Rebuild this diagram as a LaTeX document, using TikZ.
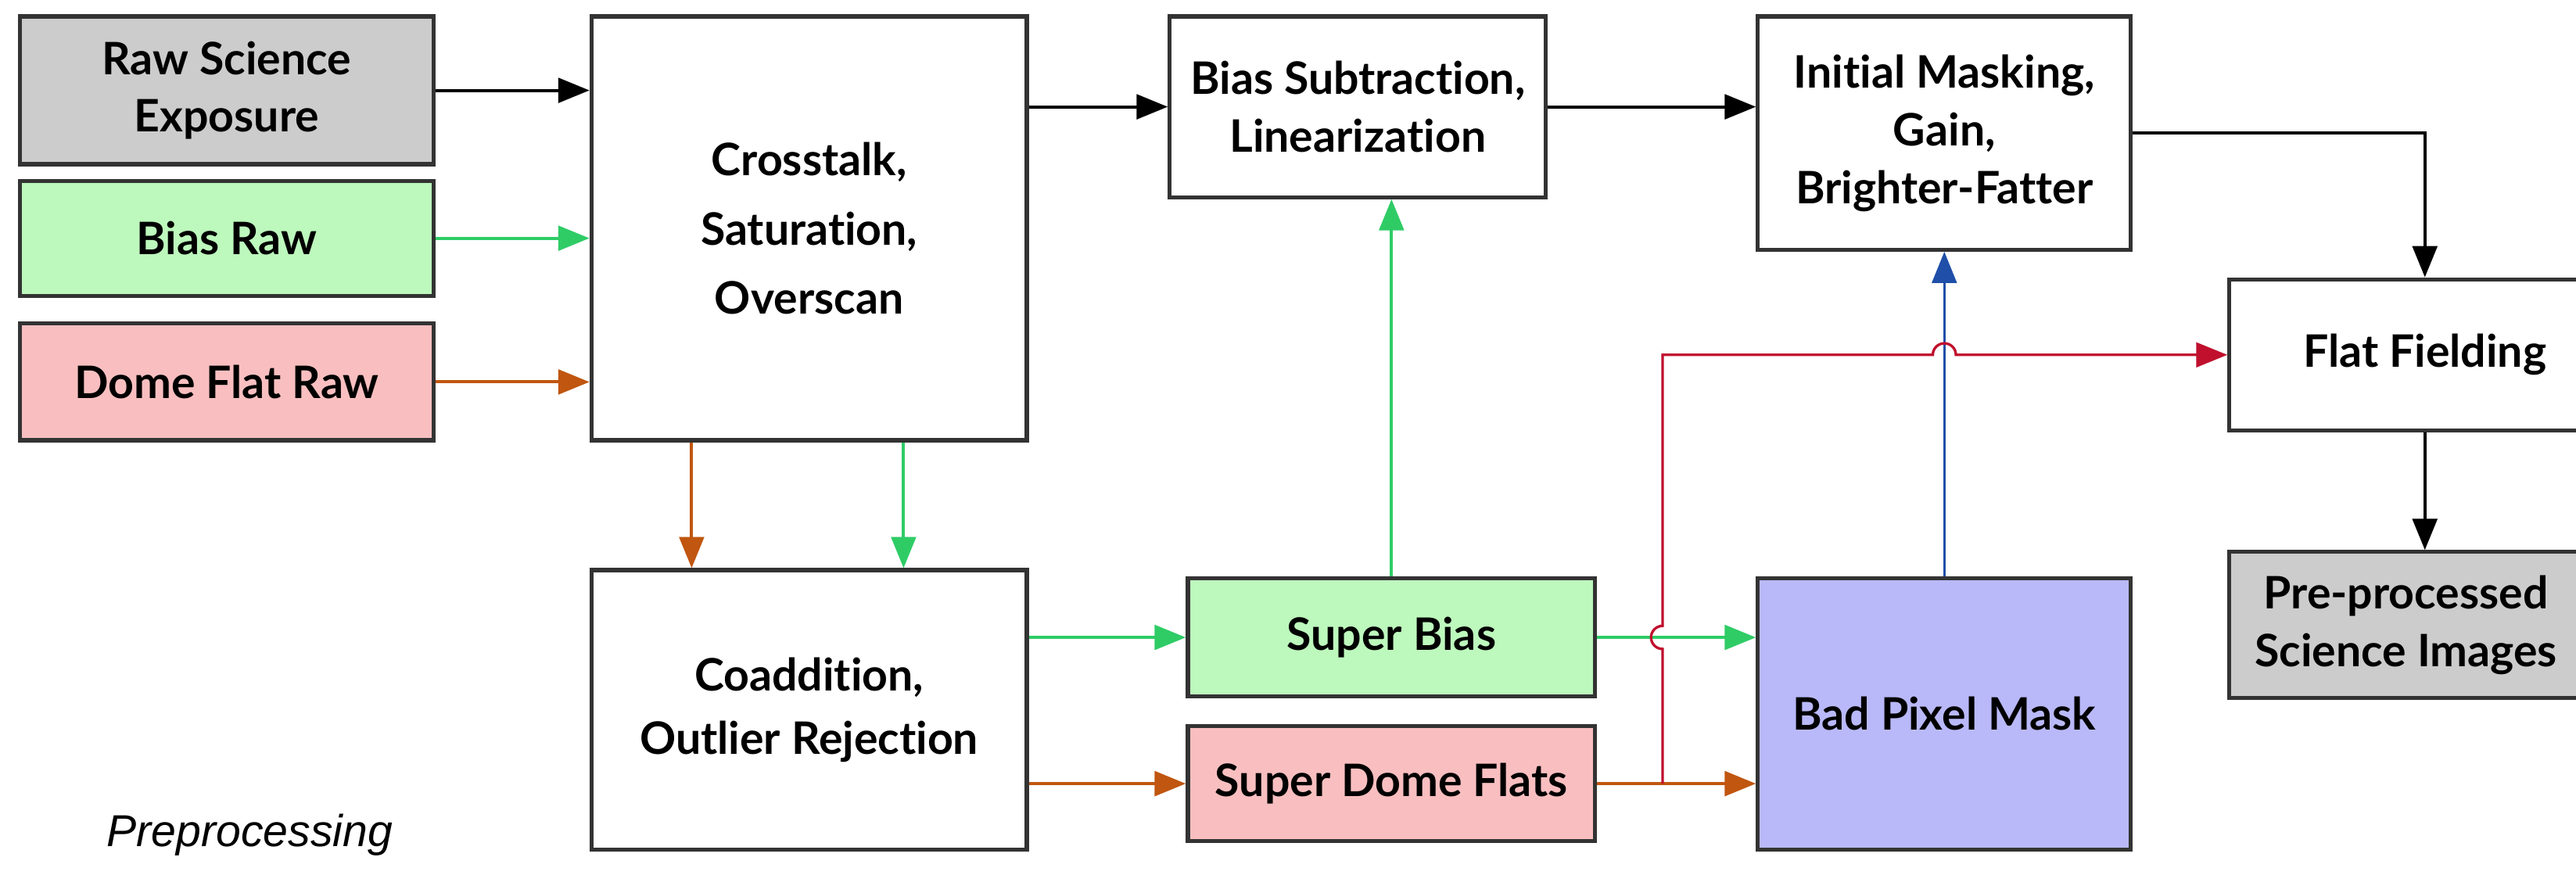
\documentclass[tikz,border=0pt]{standalone}
\usepackage{fontspec}
\setmainfont{Lato}[Ligatures=NoCommon]
\newfontfamily\notefont{Liberation Sans}
\usetikzlibrary{arrows.meta,calc}

\definecolor{edgegray}{HTML}{333333}
\definecolor{fillgray}{HTML}{CCCCCC}
\definecolor{fillgreen}{HTML}{BDF8BD}
\definecolor{fillpink}{HTML}{F9BFC0}
\definecolor{fillblue}{HTML}{B9B9F9}
\definecolor{biasline}{HTML}{2FCC66}
\definecolor{flatline}{HTML}{C0560F}
\definecolor{maskline}{HTML}{C0102E}
\definecolor{bpmline}{HTML}{1F4FA8}

\begin{document}
\begin{tikzpicture}
      [%%%%%%%%%%%%%%%%%%%%%%%%%%%%%%
      x=0.02cm,y=-0.02cm,
      box/.style={rectangle,draw=edgegray,line width=1.4pt,align=center,inner sep=2pt,
        font=\fontsize{15.5}{20}\selectfont\bfseries},
      flow/.style={line width=1.1pt,-{Triangle[length=0.38cm,width=0.3cm]}},
      thinflow/.style={line width=0.9pt,-{Triangle[length=0.38cm,width=0.3cm]}},
      ]%%%%%%%%%%%%%%%%%%%%%%%%%%%%%%
      \useasboundingbox (0,0) rectangle (1568,539);

      % inputs
      \node[box,fill=fillgray,minimum width=5.04cm,minimum height=1.8cm] (raw) at (138,55) {Raw Science\\Exposure};
      \node[box,fill=fillgreen,minimum width=5.04cm,minimum height=1.4cm] (biasraw) at (138,145) {Bias Raw};
      \node[box,fill=fillpink,minimum width=5.04cm,minimum height=1.42cm] (domeraw) at (138,232.5) {Dome Flat Raw};

      \node[box,minimum width=5.3cm,minimum height=5.16cm] (crosstalk) at (492.5,139) {Crosstalk,\\[4pt]Saturation,\\[4pt]Overscan};
      \node[box,minimum width=5.3cm,minimum height=3.4cm] (coadd) at (492.5,432) {Coaddition,\\[2pt]Outlier Rejection};
      \node[box,minimum width=4.58cm,minimum height=2.2cm] (biassub) at (826.5,65) {Bias Subtraction,\\Linearization};
      \node[box,fill=fillgreen,minimum width=4.96cm,minimum height=1.44cm] (superbias) at (847,388) {Super Bias};
      \node[box,fill=fillpink,minimum width=4.96cm,minimum height=1.4cm] (superflat) at (847,477) {Super Dome Flats};
      \node[box,minimum width=4.54cm,minimum height=2.84cm] (initmask) at (1183.5,81) {Initial Masking,\\Gain,\\Brighter-Fatter};
      \node[box,fill=fillblue,minimum width=4.54cm,minimum height=3.3cm] (bpm) at (1183.5,434.5) {Bad Pixel Mask};
      \node[box,minimum width=4.76cm,minimum height=1.84cm] (flat) at (1476,216) {Flat Fielding};
      \node[box,fill=fillgray,minimum width=4.3cm,minimum height=1.78cm] (preproc) at (1464.5,380.5) {Pre-processed\\Science Images};

      \node[font=\notefont\itshape\fontsize{15.5}{18}\selectfont] (label) at (152,508) {Preprocessing};

      % connectors
      \draw[flow,black] (raw.east) -- (raw.east -| crosstalk.west);
      \draw[flow,biasline] (biasraw.east) -- (biasraw.east -| crosstalk.west);
      \draw[flow,flatline] (domeraw.east) -- (domeraw.east -| crosstalk.west);
      \draw[flow,black] (biassub.west -| crosstalk.east) -- (biassub.west);
      \draw[flow,black] (biassub.east) -- (biassub.east -| initmask.west);
      \draw[flow,black] (initmask.east) -| (flat.north);
      \draw[flow,black] (flat.south) -- (flat.south |- preproc.north);

      \draw[flow,flatline] (crosstalk.south -| 421,0) -- (coadd.north -| 421,0);
      \draw[flow,biasline] (crosstalk.south -| 550,0) -- (coadd.north -| 550,0);
      \draw[flow,biasline] (superbias.west -| coadd.east) -- (superbias.west);
      \draw[flow,flatline] (superflat.west -| coadd.east) -- (superflat.west);
      \draw[flow,biasline] (superbias.north) -- (superbias.north |- biassub.south);
      \draw[flow,biasline] (superbias.east) -- (superbias.east -| bpm.west);
      \draw[flow,flatline] (superflat.east) -- (superflat.east -| bpm.west);
      \draw[thinflow,bpmline] (bpm.north) -- (initmask.south);

      % flat mask branch with hops
      \coordinate (fork) at (1012,477);
      \draw[thinflow,maskline] (fork)
        -- ([yshift=-4pt]fork |- superbias.east) arc[start angle=270,end angle=90,radius=4pt]
        -- (fork |- flat.west)
        -- ([xshift=-4pt]bpm.north |- flat.west) arc[start angle=180,end angle=0,radius=4pt]
        -- (flat.west);
    \end{tikzpicture}
\end{document}
